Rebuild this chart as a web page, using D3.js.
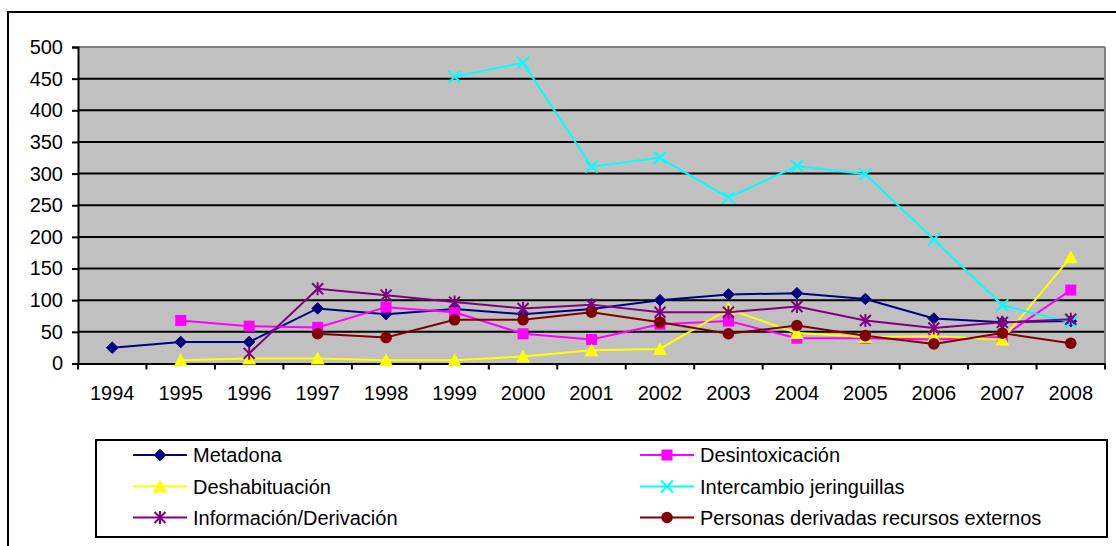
<!DOCTYPE html>
<html><head><meta charset="utf-8">
<script src="https://cdn.jsdelivr.net/npm/d3@7"></script>
<style>body{margin:0;background:#fff;} svg{display:block;} text{font-family:"Liberation Sans",Arial,sans-serif;}</style>
</head><body><svg id="c" width="1116" height="546"></svg>
<script>
const years = ["1994","1995","1996","1997","1998","1999","2000","2001","2002","2003","2004","2005","2006","2007","2008"];
const metadona      = [25, 34, 34, 87, 78, 86, 78, 86, 100, 109, 111, 102, 71, 65, 67];
const desintox      = [null, 68, 59, 57, 89, 81, 47, 38, 62, 67, 40, 40, 38, 42, 116];
const deshab        = [null, 5, 8, 8, 5, 5, 11, 21, 23, 86, 48, 42, 43, 38, 168];
const intercambio   = [null, null, null, null, null, 453, 475, 311, 325, 262, 312, 299, 196, 92, 65];
const informacion   = [null, null, 16, 118, 108, 97, 87, 93, 81, 81, 90, 68, 56, 65, 70];
const personas      = [null, null, null, 47, 41, 69, 69, 81, 65, 47, 60, 44, 31, 48, 32];
const yTicks = [0, 50, 100, 150, 200, 250, 300, 350, 400, 450, 500];

const series = [
  {name:"Metadona", values:metadona, color:"#000080", marker:"diamond"},
  {name:"Desintoxicación", values:desintox, color:"#FF00FF", marker:"square"},
  {name:"Deshabituación", values:deshab, color:"#FFFF00", marker:"triangle"},
  {name:"Intercambio jeringuillas", values:intercambio, color:"#00FFFF", marker:"x"},
  {name:"Información/Derivación", values:informacion, color:"#800080", marker:"star"},
  {name:"Personas derivadas recursos externos", values:personas, color:"#800000", marker:"circle"}
];

const svg = d3.select("#c");
const L = 78, R = 1105, T = 47, B = 363.5;
const x = d3.scaleBand().domain(years).range([L, R]);
const y = d3.scaleLinear().domain([0, 500]).range([B, T]);

// outer border
svg.append("rect").attr("x",8).attr("y",12).attr("width",1300).attr("height",700)
  .attr("fill","#fff").attr("stroke","#000").attr("stroke-width",2);

// plot area
svg.append("rect").attr("x",L).attr("y",T).attr("width",R-L).attr("height",B-T).attr("fill","#C0C0C0");
// gridlines
svg.append("g").selectAll("line").data(yTicks.filter(v=>v>0 && v<500)).join("line")
  .attr("x1",L).attr("x2",R).attr("y1",d=>y(d)).attr("y2",d=>y(d))
  .attr("stroke","#000").attr("stroke-width",2);
// top & right gray border
svg.append("line").attr("x1",L).attr("x2",R).attr("y1",T).attr("y2",T).attr("stroke","#808080").attr("stroke-width",2);
svg.append("line").attr("x1",R).attr("x2",R).attr("y1",T).attr("y2",B).attr("stroke","#808080").attr("stroke-width",2);

// y axis
const yAxis = d3.axisLeft(y).tickValues(yTicks).tickSize(6).tickPadding(9);
const gy = svg.append("g").attr("transform",`translate(${L},0)`).call(yAxis);
gy.select(".domain").attr("stroke","#000").attr("stroke-width",2);
gy.selectAll(".tick line").attr("stroke","#000").attr("stroke-width",2);
gy.selectAll("text").attr("font-size",20).attr("fill","#000").attr("font-family","Liberation Sans, Arial");

// x axis
const xAxis = d3.axisBottom(x).tickSize(0).tickPadding(22);
const gx = svg.append("g").attr("transform",`translate(0,${B})`).call(xAxis);
gx.select(".domain").attr("stroke","#000").attr("stroke-width",2);
gx.selectAll("text").attr("font-size",20).attr("fill","#000").attr("font-family","Liberation Sans, Arial");
// x ticks at band boundaries
const bounds = years.map(d=>x(d)).concat([R]);
svg.append("g").selectAll("line").data(bounds).join("line")
  .attr("x1",d=>d).attr("x2",d=>d).attr("y1",B).attr("y2",B+6)
  .attr("stroke","#000").attr("stroke-width",2);

function drawMarker(g, type, cx, cy, color){
  const s = 5.8;
  if(type==="diamond"){
    g.append("path").attr("d",`M${cx},${cy-s}L${cx+s},${cy}L${cx},${cy+s}L${cx-s},${cy}Z`).attr("fill",color).attr("stroke",color);
  } else if(type==="square"){
    g.append("rect").attr("x",cx-5.5).attr("y",cy-5.5).attr("width",11).attr("height",11).attr("fill",color);
  } else if(type==="triangle"){
    g.append("path").attr("d",`M${cx},${cy-7}L${cx+7},${cy+6}L${cx-7},${cy+6}Z`).attr("fill",color);
  } else if(type==="circle"){
    g.append("circle").attr("cx",cx).attr("cy",cy).attr("r",5.8).attr("fill",color);
  } else if(type==="x"){
    g.append("path").attr("d",`M${cx-6},${cy-6}L${cx+6},${cy+6}M${cx-6},${cy+6}L${cx+6},${cy-6}`).attr("stroke",color).attr("stroke-width",2).attr("fill","none");
  } else if(type==="star"){
    g.append("path").attr("d",`M${cx-5.5},${cy-5.5}L${cx+5.5},${cy+5.5}M${cx-5.5},${cy+5.5}L${cx+5.5},${cy-5.5}M${cx},${cy-6.5}L${cx},${cy+6.5}`).attr("stroke",color).attr("stroke-width",2).attr("fill","none");
  }
}

const cx = d => x(d) + x.bandwidth()/2;
series.forEach(s=>{
  const g = svg.append("g");
  const pts = years.map((yr,i)=>({yr, v:s.values[i]}));
  const line = d3.line().defined(d=>d.v!=null).x(d=>cx(d.yr)).y(d=>y(d.v));
  g.append("path").attr("d",line(pts)).attr("fill","none").attr("stroke",s.color).attr("stroke-width",2);
  pts.filter(d=>d.v!=null).forEach(d=>drawMarker(g, s.marker, cx(d.yr), y(d.v), s.color));
});

// legend
svg.append("rect").attr("x",96).attr("y",440).attr("width",1011).attr("height",97)
  .attr("fill","#fff").attr("stroke","#000").attr("stroke-width",2);
const colX = [133, 640];
const rowY = [455, 486.5, 517.5];
series.forEach((s,i)=>{
  const col = i%2, row = Math.floor(i/2);
  const lx = colX[col], ly = rowY[row];
  const g = svg.append("g");
  g.append("line").attr("x1",lx).attr("x2",lx+54).attr("y1",ly).attr("y2",ly).attr("stroke",s.color).attr("stroke-width",2);
  drawMarker(g, s.marker, lx+27, ly, s.color);
  g.append("text").attr("x",lx+60).attr("y",ly).attr("dy","0.35em").attr("font-size",20).attr("fill","#000").text(s.name);
});
</script></body></html>
